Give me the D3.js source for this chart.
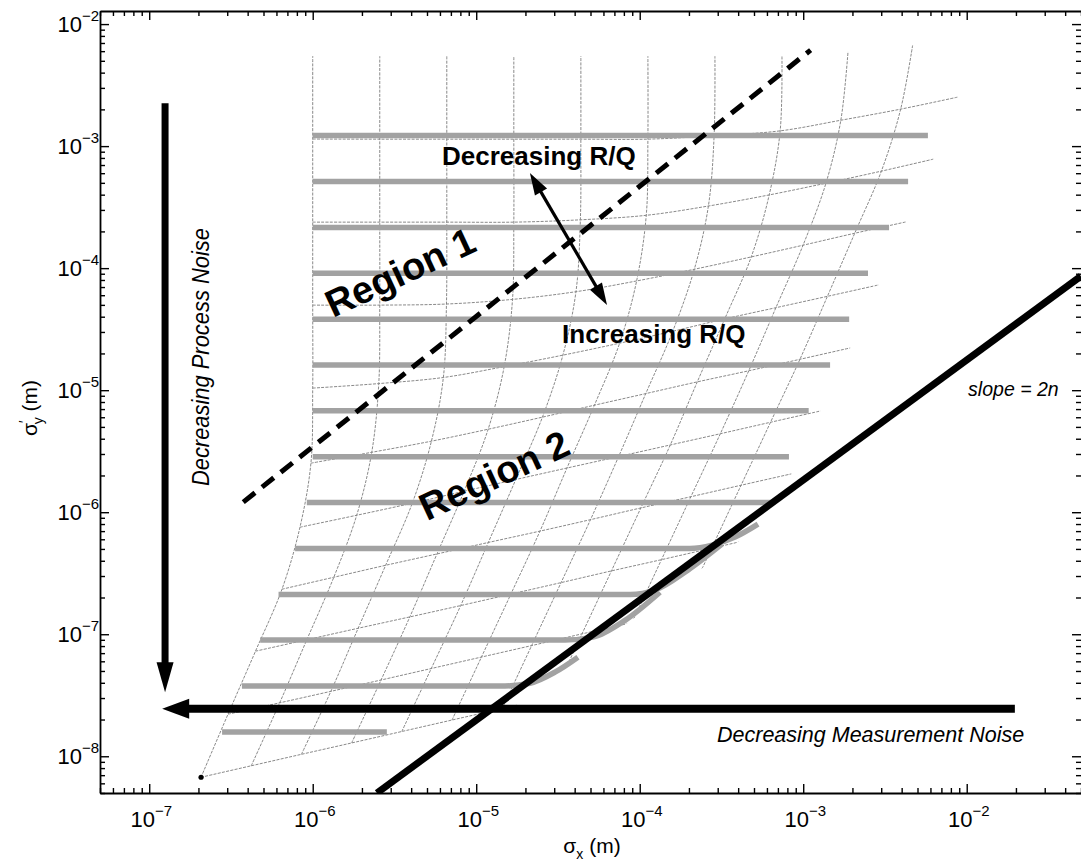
<!DOCTYPE html>
<html>
<head>
<meta charset="utf-8">
<script src="https://cdn.jsdelivr.net/npm/d3@7"></script>
<style>
html,body{margin:0;padding:0;background:#fff;}
svg{display:block;}
text{font-family:"Liberation Sans",Arial,Helvetica,sans-serif;}
</style>
</head>
<body>
<svg id="chart" width="1081" height="865"></svg>
<script>
// ---------------- data ----------------
const xTickValues = [1e-7, 1e-6, 1e-5, 1e-4, 1e-3, 1e-2];
const xTickExponents = ["\u22127", "\u22126", "\u22125", "\u22124", "\u22123", "\u22122"];
const yTickValues = [1e-8, 1e-7, 1e-6, 1e-5, 1e-4, 1e-3, 1e-2];
const yTickExponents = ["\u22128", "\u22127", "\u22126", "\u22125", "\u22124", "\u22123", "\u22122"];

// thin mesh nodes (log10 of sigma_x and sigma_y'); row i = one R curve, column j = one Q level
const meshLog10SigmaX = [
  [-6.683,-6.518,-6.350,-6.188,-6.078,-6.011,-6.000,-6.000,-6.000,-6.000,-6.000],
  [-6.376,-6.202,-6.036,-5.871,-5.731,-5.639,-5.596,-5.590,-5.590,-5.590,-5.590],
  [-6.069,-5.889,-5.722,-5.554,-5.391,-5.274,-5.201,-5.182,-5.180,-5.180,-5.180],
  [-5.762,-5.582,-5.406,-5.240,-5.074,-4.927,-4.829,-4.778,-4.770,-4.770,-4.770],
  [-5.455,-5.275,-5.095,-4.926,-4.758,-4.595,-4.470,-4.390,-4.363,-4.360,-4.360],
  [-5.148,-4.968,-4.788,-4.610,-4.445,-4.277,-4.123,-4.019,-3.960,-3.950,-3.950],
  [-4.841,-4.661,-4.481,-4.301,-4.129,-3.963,-3.798,-3.666,-3.580,-3.545,-3.540],
  [-4.533,-4.353,-4.173,-3.993,-3.813,-3.648,-3.480,-3.318,-3.208,-3.141,-3.130],
  [-4.227,-4.047,-3.867,-3.687,-3.507,-3.333,-3.167,-3.001,-2.861,-2.770,-2.726],
  [-3.920,-3.740,-3.560,-3.380,-3.200,-3.020,-2.852,-2.685,-2.522,-2.404,-2.331],
  [-3.613,-3.433,-3.253,-3.073,-2.893,-2.713,-2.537,-2.371,-2.205,-2.057,-1.959]
];
const meshLog10SigmaY = [
  [-8.172,-7.655,-7.139,-6.631,-6.123,-5.598,-4.983,-4.303,-3.623,-2.942,-2.262],
  [-8.078,-7.562,-7.045,-6.533,-6.025,-5.509,-4.946,-4.303,-3.623,-2.943,-2.263],
  [-7.984,-7.468,-6.951,-6.435,-5.926,-5.418,-4.896,-4.294,-3.623,-2.943,-2.263],
  [-7.891,-7.375,-6.858,-6.342,-5.828,-5.320,-4.807,-4.256,-3.623,-2.943,-2.263],
  [-7.797,-7.281,-6.765,-6.248,-5.732,-5.221,-4.713,-4.193,-3.604,-2.943,-2.263],
  [-7.703,-7.187,-6.671,-6.155,-5.638,-5.123,-4.615,-4.105,-3.567,-2.943,-2.263],
  [-7.609,-7.093,-6.577,-6.061,-5.544,-5.028,-4.517,-4.009,-3.491,-2.915,-2.263],
  [-7.513,-6.997,-6.481,-5.965,-5.449,-4.932,-4.416,-3.908,-3.400,-2.875,-2.260],
  [-7.421,-6.905,-6.389,-5.873,-5.357,-4.841,-4.324,-3.812,-3.304,-2.788,-2.225],
  [-7.327,-6.811,-6.295,-5.779,-5.263,-4.747,-4.231,-3.714,-3.205,-2.697,-2.175],
  [-7.234,-6.718,-6.202,-5.686,-5.170,-4.654,-4.137,-3.621,-3.107,-2.599,-2.086]
];
const rCurveCount = 10;   // rows drawn as R curves
const qCurveCount = 10;   // columns drawn as Q curves

// thick grey constant sigma_y' lines
const grayLevels = [1.22e-3, 5.12e-4, 2.15e-4, 9.07e-5, 3.82e-5, 1.61e-5, 6.77e-6, 2.85e-6, 1.20e-6, 5.05e-7, 2.12e-7, 8.95e-8, 3.77e-8, 1.58e-8];
const grayStartX = [1e-6, 1e-6, 1e-6, 1e-6, 1e-6, 1e-6, 1e-6, 1e-6, 9.2e-7, 7.8e-7, 6.18e-7, 4.77e-7, 3.69e-7, 2.79e-7];
const grayEndX = [5.79e-3, 4.38e-3, 3.35e-3, 2.49e-3, 1.91e-3, 1.46e-3, 1.08e-3, 8.18e-4, 6.44e-4, 2.03e-4, 8.73e-5, 3.49e-5, 1.50e-5, 2.84e-6];
const grayTails = {
  9:  [[2.77e-4, 5.37e-7], [3.83e-4, 6.25e-7], [5.29e-4, 7.98e-7]],
  10: [[1.24e-4, 2.30e-7], [1.97e-4, 3.35e-7], [3.18e-4, 5.47e-7]],
  11: [[5.18e-5, 9.46e-8], [8.13e-5, 1.30e-7], [1.33e-4, 2.21e-7]],
  12: [[2.13e-5, 3.97e-8], [3.03e-5, 4.89e-8], [4.19e-5, 6.49e-8]]
};

// straight reference lines
const slopeLineX = [2.47e-6, 5e-2];
const slopeLineY = [5e-9, 8.6e-5];
const boundaryX = [3.76e-7, 1.11e-3];
const boundaryY = [1.21e-6, 6.12e-3];

// annotation arrows [x, y] from -> to
const processArrow = [[1.25e-7, 2.25e-3], [1.25e-7, 3.35e-8]];
const measurementArrow = [[1.97e-2, 2.45e-8], [1.20e-7, 2.45e-8]];
const ratioArrow = [[2.13e-5, 6.01e-4], [6.31e-5, 4.98e-5]];

// ---------------- layout ----------------
const M = {left: 100, right: 1081, top: 11, bottom: 793};
const x = d3.scaleLog().domain([5e-8, 5e-2]).range([M.left, M.right]);
const y = d3.scaleLog().domain([5e-9, 1.28e-2]).range([M.bottom, M.top]);
const p10 = v => Math.pow(10, v);

const svg = d3.select("#chart");
svg.append("rect").attr("width", 1081).attr("height", 865).attr("fill", "#fff");
const defs = svg.append("defs");
defs.append("clipPath").attr("id", "clip")
  .append("rect").attr("x", M.left).attr("y", M.top)
  .attr("width", M.right - M.left).attr("height", M.bottom - M.top);
// mesh stops a little past the slope line
const sl0 = [x(slopeLineX[0]), y(slopeLineY[0])], sl1 = [x(slopeLineX[1]), y(slopeLineY[1])];
const meshOff = 14;
defs.append("clipPath").attr("id", "meshClip")
  .append("polygon").attr("points", [
    [M.left, M.top], [M.right, M.top], [sl1[0], sl1[1] + meshOff],
    [sl0[0], sl0[1] + meshOff], [M.left, M.bottom]].join(" "));

const plot = svg.append("g").attr("clip-path", "url(#clip)");

const smooth = d3.line().x(d => x(d[0])).y(d => y(d[1])).curve(d3.curveCatmullRom.alpha(0.5));
const mono = d3.line().x(d => x(d[0])).y(d => y(d[1])).curve(d3.curveMonotoneX);
const straight = d3.line().x(d => x(d[0])).y(d => y(d[1]));

// thin mesh
const rCurves = d3.range(rCurveCount).map(i => meshLog10SigmaX[i].map((lx, j) => [p10(lx), p10(meshLog10SigmaY[i][j])]));
const qCurves = d3.range(qCurveCount).map(j => meshLog10SigmaX.map((row, i) => [p10(row[j]), p10(meshLog10SigmaY[i][j])]));
const meshG = plot.append("g").attr("clip-path", "url(#meshClip)").attr("fill", "none").attr("stroke", "#7c7c7c")
  .attr("stroke-width", 0.9).attr("stroke-dasharray", "3,1.3");
meshG.selectAll("path.r").data(rCurves).join("path").attr("class", "r").attr("d", smooth);
meshG.selectAll("path.q").data(qCurves).join("path").attr("class", "q").attr("d", smooth);

// thick grey lines
const grayG = plot.append("g").attr("fill", "none").attr("stroke", "#a2a2a2")
  .attr("stroke-width", 5.5).attr("stroke-linecap", "butt");
grayLevels.forEach((lv, k) => {
  const pts = [[grayStartX[k], lv], [grayEndX[k], lv]].concat(grayTails[k] || []);
  grayG.append("path").attr("d", mono(pts));
});

// node dot at the lower-left corner of the mesh
plot.append("circle").attr("cx", x(p10(meshLog10SigmaX[0][0]))).attr("cy", y(p10(meshLog10SigmaY[0][0])))
  .attr("r", 2.6).attr("fill", "#000");

// slope line
plot.append("path").attr("d", straight(slopeLineX.map((v, i) => [v, slopeLineY[i]])))
  .attr("stroke", "#000").attr("stroke-width", 7).attr("fill", "none");

// region boundary (dashed)
plot.append("path").attr("d", straight(boundaryX.map((v, i) => [v, boundaryY[i]])))
  .attr("stroke", "#000").attr("stroke-width", 5).attr("stroke-dasharray", "15,9").attr("fill", "none");

// arrows
function head(tip, from, len, half) {
  const dx = tip[0] - from[0], dy = tip[1] - from[1], L = Math.hypot(dx, dy);
  const ux = dx / L, uy = dy / L;
  const bx = tip[0] - ux * len, by = tip[1] - uy * len;
  return {poly: [[tip[0], tip[1]], [bx - uy * half, by + ux * half], [bx + uy * half, by - ux * half]], base: [bx + ux * 2, by + uy * 2]};
}
function arrow(a, width, len, half, both) {
  const p0 = [x(a[0][0]), y(a[0][1])], p1 = [x(a[1][0]), y(a[1][1])];
  const h1 = head(p1, p0, len, half);
  let s0 = p0;
  if (both) { const h0 = head(p0, p1, len, half); s0 = h0.base; plot.append("polygon").attr("points", h0.poly.join(" ")).attr("fill", "#000"); }
  plot.append("line").attr("x1", s0[0]).attr("y1", s0[1]).attr("x2", h1.base[0]).attr("y2", h1.base[1])
    .attr("stroke", "#000").attr("stroke-width", width);
  plot.append("polygon").attr("points", h1.poly.join(" ")).attr("fill", "#000");
}
arrow(processArrow, 7, 30, 8.5, false);
arrow(measurementArrow, 8, 27, 10, false);
arrow(ratioArrow, 3.2, 22, 7, true);

// annotation texts
function label(xv, yv, txt, opts) {
  const t = svg.append("text").attr("x", x(xv)).attr("y", y(yv)).text(txt)
    .attr("font-size", opts.size).attr("fill", "#000");
  if (opts.bold) t.attr("font-weight", "bold");
  if (opts.italic) t.attr("font-style", "italic");
  if (opts.anchor) t.attr("text-anchor", opts.anchor);
  if (opts.length) t.attr("textLength", opts.length).attr("lengthAdjust", "spacingAndGlyphs");
  if (opts.rotate) t.attr("transform", `rotate(${opts.rotate},${x(xv)},${y(yv)})`);
  return t;
}
label(6.18e-6, 7.0e-4, "Decreasing R/Q", {size: 26, bold: true});
label(3.35e-5, 2.43e-5, "Increasing R/Q", {size: 26, bold: true});
label(1.33e-6, 3.90e-5, "Region 1", {size: 38, bold: true, rotate: -25});
label(5.0e-6, 8.45e-7, "Region 2", {size: 38, bold: true, rotate: -25});
label(1.02e-2, 8.93e-6, "slope = 2n", {size: 19.5, italic: true});
label(2.97e-4, 1.30e-8, "Decreasing Measurement Noise", {size: 21.5, italic: true});
label(2.32e-7, 2.13e-4, "Decreasing Process Noise", {size: 23, italic: true, anchor: "end", rotate: -90, length: 258});

// ---------------- axes ----------------
const isMajor = v => Math.abs(Math.log10(v) - Math.round(Math.log10(v))) < 1e-6;
const xMinor = x.ticks().filter(v => !isMajor(v));
const yMinor = y.ticks().filter(v => !isMajor(v));
const axG = svg.append("g");
function addAxis(gen, transform, values, size, showDomain) {
  const g = axG.append("g").attr("transform", transform)
    .call(gen.tickValues(values).tickSize(size).tickSizeOuter(0).tickFormat(""));
  g.selectAll("line").attr("stroke", "#000").attr("stroke-width", 1.4);
  if (showDomain) g.select(".domain").attr("stroke", "#000").attr("stroke-width", 1.8);
  else g.select(".domain").remove();
}
addAxis(d3.axisBottom(x), `translate(0,${M.bottom})`, xTickValues, -9, true);
addAxis(d3.axisBottom(x), `translate(0,${M.bottom})`, xMinor, -5, false);
addAxis(d3.axisTop(x), `translate(0,${M.top})`, xTickValues, -9, true);
addAxis(d3.axisTop(x), `translate(0,${M.top})`, xMinor, -5, false);
addAxis(d3.axisLeft(y), `translate(${M.left},0)`, yTickValues, -9, true);
addAxis(d3.axisLeft(y), `translate(${M.left},0)`, yMinor, -5, false);
addAxis(d3.axisRight(y), `translate(${M.right},0)`, yTickValues, -9, false);
addAxis(d3.axisRight(y), `translate(${M.right},0)`, yMinor, -5, false);

// tick labels with superscripts
xTickValues.forEach((v, i) => {
  const t = svg.append("text").attr("x", x(v) + 2).attr("y", M.bottom + 34)
    .attr("text-anchor", "middle").attr("font-size", 22).text("10");
  t.append("tspan").attr("dy", -11).attr("font-size", 15).text(xTickExponents[i]);
});
yTickValues.forEach((v, i) => {
  const t = svg.append("text").attr("x", M.left - 1).attr("y", y(v) + 8)
    .attr("text-anchor", "end").attr("font-size", 22).text("10");
  t.append("tspan").attr("dy", -11).attr("font-size", 15).text(yTickExponents[i]);
});

// axis titles
const xt = svg.append("text").attr("x", 592).attr("y", 853).attr("text-anchor", "middle").attr("font-size", 21).text("\u03c3");
xt.append("tspan").attr("font-size", 14).attr("dy", 6).text("x");
xt.append("tspan").attr("dy", -6).text(" (m)");

const yt = svg.append("text").attr("transform", "translate(37,408) rotate(-90)")
  .attr("text-anchor", "middle").attr("font-size", 21).text("\u03c3");
yt.append("tspan").attr("font-size", 14).attr("dy", -8).text("\u2032");
yt.append("tspan").attr("font-size", 14).attr("dx", -4).attr("dy", 14).text("y");
yt.append("tspan").attr("dy", -6).text(" (m)");
</script>
</body>
</html>
